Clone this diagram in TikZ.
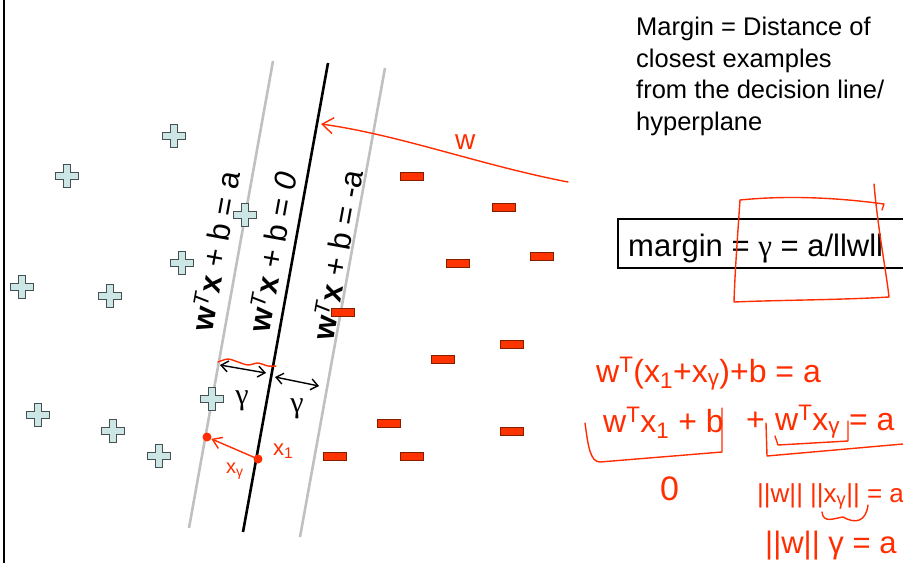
\documentclass[tikz,border=0pt]{standalone}
\usepackage{fontspec}
\setmainfont{Liberation Sans}
\newfontfamily\serifg{Liberation Serif}
\usetikzlibrary{arrows.meta}
\definecolor{ink}{RGB}{255,45,0}
\definecolor{posfill}{RGB}{204,230,230}
\definecolor{posdraw}{RGB}{70,80,80}
\definecolor{negfill}{RGB}{255,51,0}
\definecolor{negdraw}{RGB}{130,30,0}
\definecolor{planegray}{RGB}{192,192,192}
\newcommand\wTx{\textbf{w}\textsuperscript{\itshape T\kern1pt}\textbf{x}}
\begin{document}
\begin{tikzpicture}[x=1pt,y=-1pt,
  plusmark/.pic={\draw[draw=posdraw,fill=posfill,line width=0.8pt]
     (-11.5,-3.5) -- (-3.5,-3.5) -- (-3.5,-11.5) -- (3.5,-11.5) -- (3.5,-3.5) -- (11.5,-3.5)
     -- (11.5,3.5) -- (3.5,3.5) -- (3.5,11.5) -- (-3.5,11.5) -- (-3.5,3.5) -- (-11.5,3.5) -- cycle;},
  minusmark/.style={draw=negdraw,fill=negfill,line width=0.8pt,minimum width=23pt,minimum height=8pt,inner sep=0pt},
  plane/.style={planegray,line width=2.6pt},
  decision/.style={black,line width=2.6pt},
  planelabel/.style={rotate=79.7,font=\fontsize{31}{34}\selectfont,inner sep=0pt},
  gap/.style={{Straight Barb[length=7pt,width=11pt]}-{Straight Barb[length=7pt,width=11pt]},line width=1.4pt},
  inkline/.style={ink,line width=1.4pt,line cap=round,line join=round},
  handtext/.style={text=ink,font=\fontsize{32}{34}\selectfont,inner sep=0pt,anchor=base west},
  bodytext/.style={font=\fontsize{25.5}{31.5}\selectfont,align=left,inner sep=0pt,anchor=north west},
]
\useasboundingbox (0,0) rectangle (903,563);
% left border
\coordinate (bt) at (4,0);
\coordinate (bb) at (4,563);
\draw[line width=2pt] (bt) -- (bb);

% planes
\coordinate (pa1) at (273,61);
\coordinate (pa2) at (189,528);
\coordinate (p01) at (328,63);
\coordinate (p02) at (243,532);
\coordinate (pb1) at (385,68);
\coordinate (pb2) at (300,537);
\draw[plane] (pa1) -- (pa2);
\draw[decision] (p01) -- (p02);
\draw[plane] (pb1) -- (pb2);

% positive examples
\foreach \n/\x/\y in {1/174/136, 2/67/176, 3/245/215, 4/182/263, 5/22/287, 6/110/296,
                      7/212/399, 8/38/415, 9/113/431, 10/159/456}
  \pic (pos\n) at (\x,\y) {plusmark};

% negative examples
\foreach \n/\x/\y in {1/412/176, 2/504/207, 3/458/263, 4/542/256, 5/343/312, 6/512/344,
                      7/443/359, 8/389/423, 9/512/431, 10/335/456, 11/412/456}
  \node[minusmark] (neg\n) at (\x,\y) {};

% plane labels
\node[planelabel] (lab1) at (215,251) {\wTx{} + b = a};
\node[planelabel] (lab2) at (272,252) {\wTx{} + b = \textit{0}};
\node[planelabel] (lab3) at (337,255) {\wTx{} + b = -a};

% margin arrows
\coordinate (g1a) at (220,365);
\coordinate (g1b) at (266,373);
\coordinate (g2a) at (275,377);
\coordinate (g2b) at (319,386);
\draw[gap] (g1a) -- (g1b);
\draw[gap] (g2a) -- (g2b);
\node[font=\serifg\fontsize{30}{30}\selectfont,inner sep=0pt] (gam1) at (242,401) {γ};
\node[font=\serifg\fontsize{30}{30}\selectfont,inner sep=0pt] (gam2) at (297,409) {γ};

% top-right text
\node[bodytext] (desc) at (636,17) {Margin = Distance of\\closest examples\\from the decision line/\\hyperplane};

% margin formula box
\node[font=\fontsize{31}{31}\selectfont,anchor=base west,inner sep=0pt] (formula) at (628,256)
  {margin = {\serifg γ} = a/llwll};
\coordinate (fb1) at (618,219);
\coordinate (fb2) at (915,268);
\draw[line width=1.6pt] (fb1) rectangle (fb2);

% ---- red handwritten annotations ----
% w arrow
\coordinate (wtail) at (568,182);
\coordinate (wtip) at (321,124);
\draw[inkline,-{Straight Barb[length=11pt,width=16pt]}] (wtail) .. controls (480,165) and (400,135) .. (wtip);
\node[handtext,font=\fontsize{28}{28}\selectfont] (wlab) at (455,149) {w};

% wavy line on margin arrow
\draw[inkline] plot[smooth] coordinates {(218,362) (228,359) (238,362) (248,365) (258,363) (268,366) (276,366)};

% x_gamma vector
\node[circle,fill=ink,inner sep=0pt,minimum size=9pt] (xr) at (207,437) {};
\node[circle,fill=ink,inner sep=0pt,minimum size=9pt] (x1) at (258,459) {};
\draw[inkline,-{Straight Barb[length=9pt,width=12pt]}] (x1) -- (xr);
\node[handtext,font=\fontsize{20}{20}\selectfont] (xglab) at (226,473) {x\textsubscript{γ}};
\node[handtext,font=\fontsize{22}{22}\selectfont] (x1lab) at (273,455) {x\textsubscript{1}};

% hand-drawn box around gamma = a/||w||
\coordinate (hb1) at (740,200);
\draw[inkline] (hb1) .. controls (790,195) and (840,198) .. (884,204) -- (882,210);
\draw[inkline] (874,184) .. controls (878,230) and (886,270) .. (889,297)
   .. controls (840,300) and (780,300) .. (734,302) .. controls (735,270) and (738,230) .. (hb1);

% handwritten equations
\node[handtext] (eq1) at (596,382) {w\textsuperscript{T}(x\textsubscript{1}+x\textsubscript{γ})+b = a};
\node[handtext] (eq2a) at (603,432) {w\textsuperscript{T}x\textsubscript{1} + b};
\node[handtext] (eq2b) at (746,430) {+};
\node[handtext] (eq2c) at (775,430) {w\textsuperscript{T}x\textsubscript{γ} = a};
\node[handtext,font=\fontsize{34}{34}\selectfont] (eq0) at (660,500) {0};
\node[handtext,font=\fontsize{26}{26}\selectfont] (eq3) at (757,502) {||w|| ||x\textsubscript{γ}|| = a};
\node[handtext,font=\fontsize{31}{31}\selectfont] (eq4) at (765,553) {||w|| γ = a};

% brackets
\coordinate (br1) at (585,423);
\coordinate (br2) at (722,408);
\draw[inkline] (br1) .. controls (588,445) and (590,462) .. (600,462) -- (722,452) -- (br2);
\coordinate (br3) at (766,423);
\coordinate (br4) at (903,444);
\draw[inkline] (br3) -- (767,456) -- (br4);
\coordinate (br5) at (775,436);
\coordinate (br6) at (848,421);
\draw[inkline] (br5) -- (778,445) -- (848,441) -- (br6);
\coordinate (br7) at (822,512);
\coordinate (br8) at (868,505);
\draw[inkline] (br7) .. controls (823,524) and (835,518) .. (843,517) .. controls (855,524) and (866,522) .. (br8);
\end{tikzpicture}
\end{document}
